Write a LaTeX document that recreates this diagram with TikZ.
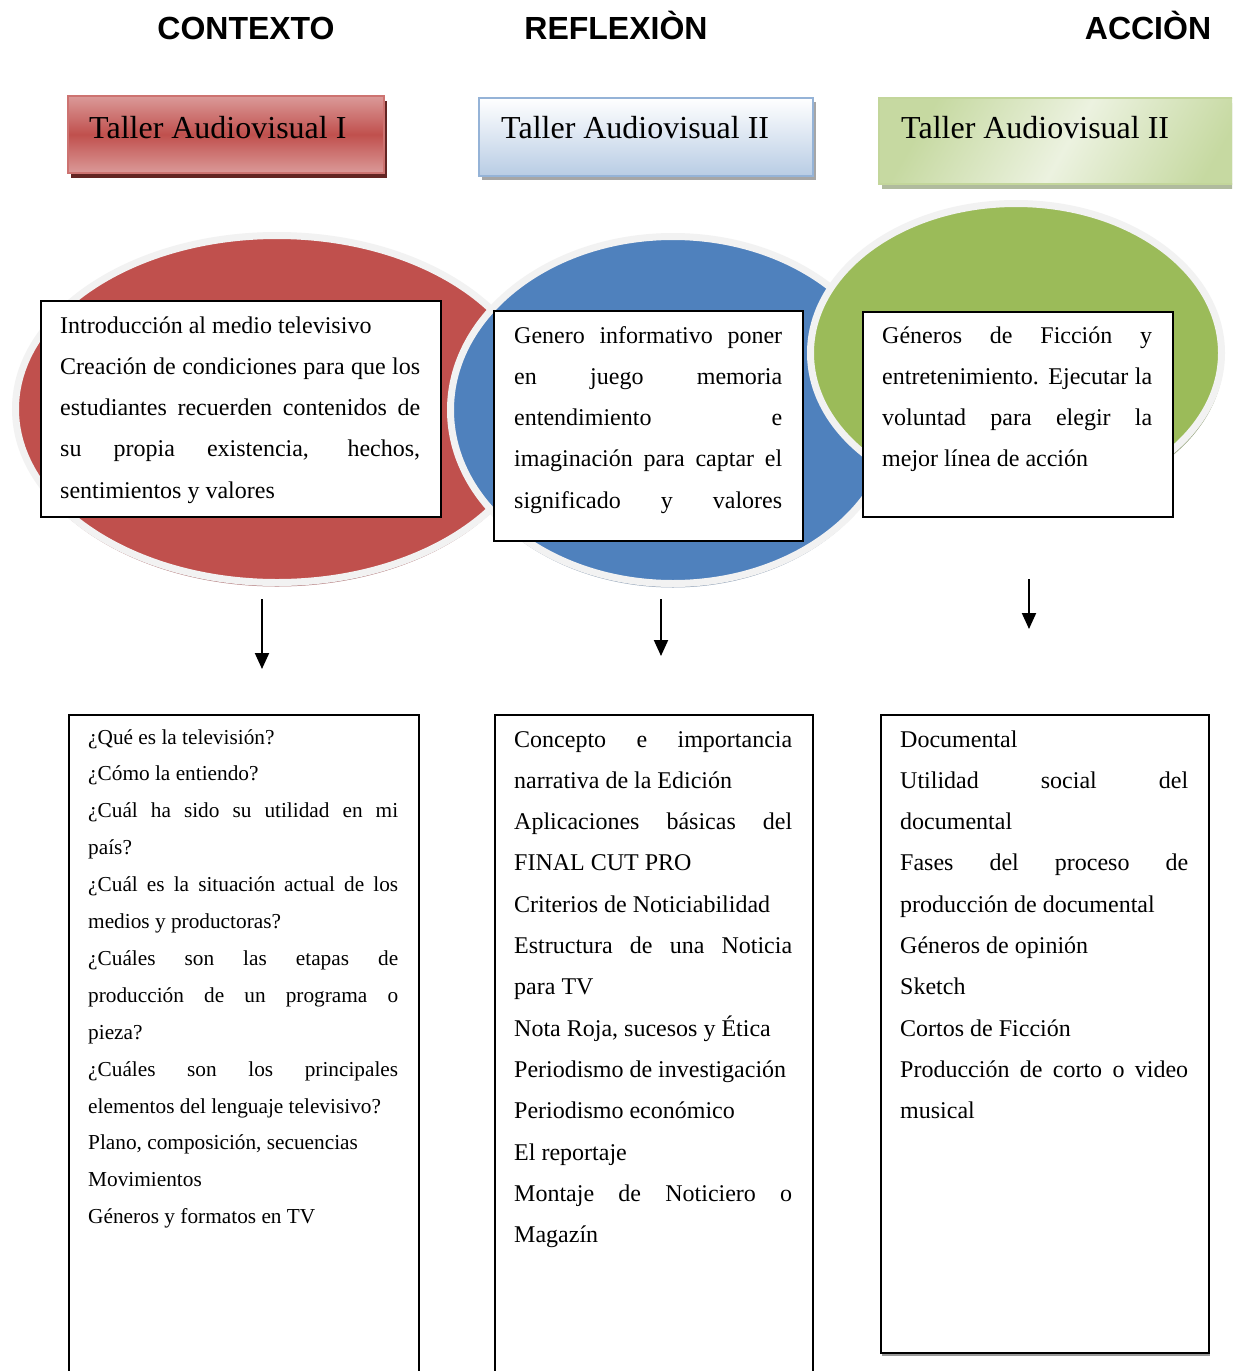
\documentclass[tikz,border=0pt]{standalone}
\usepackage{fontspec}
\setmainfont{Liberation Serif}
\newfontfamily\hdrfont{Liberation Sans}
\usetikzlibrary{arrows.meta,shapes.geometric,shadows}
\definecolor{rojo}{HTML}{C0504D}
\definecolor{rojoclaro}{HTML}{DB9A99}
\definecolor{rojosh}{HTML}{A8696A}
\definecolor{rojoosc}{HTML}{632523}
\definecolor{azul}{HTML}{4F81BD}
\definecolor{azulsh}{HTML}{8396AE}
\definecolor{azulborde}{HTML}{95B3D7}
\definecolor{azulclaro}{HTML}{B8CCE4}
\definecolor{verde}{HTML}{9BBB59}
\definecolor{verdesh}{HTML}{8E9E74}
\definecolor{verdeborde}{HTML}{C3D69B}
\definecolor{verdeosc}{HTML}{C6D9A1}
\definecolor{verdeclaro}{HTML}{ECF2E0}
\definecolor{rim}{HTML}{F2F2F2}
\newcommand\J[1]{\makebox[\linewidth][s]{#1}\par}
\newcommand\Ln[1]{#1\par}
\tikzset{
  hdr/.style={font=\hdrfont\bfseries\fontsize{32}{38}\selectfont, inner sep=0pt, anchor=base},
  ttl/.style={font=\fontsize{32}{38}\selectfont, anchor=base west, inner sep=0pt},
  ovalo/.style={ellipse, draw=rim, line width=7pt, inner sep=0pt},
  txtbox/.style={draw=black, line width=2pt, fill=white, anchor=north west, inner sep=0pt},
  txt/.style={anchor=base west, inner sep=0pt},
  arr/.style={line width=2pt, -{Triangle[width=14pt,length=16pt]}},
  tbox/.style={anchor=north west, inner sep=0pt, line width=2pt}
}
\begin{document}
\begin{tikzpicture}[x=1pt,y=-1pt]
\useasboundingbox (0,0) rectangle (1232,1371);
\clip (0,0) rectangle (1232,1371);
\fill[white] (0,0) rectangle (1232,1371);

% headers
\node[hdr] (h1) at (246,39.5) {CONTEXTO};
\node[hdr] (h2) at (616,39.5) {REFLEXIÒN};
\node[hdr] (h3) at (1148,39.5) {ACCIÒN};

% title boxes
\node[tbox, draw=rojo!80!white, top color=rojoclaro, bottom color=rojoclaro, middle color=rojo,
  minimum width=316pt, minimum height=77pt,
  drop shadow={shadow xshift=3pt, shadow yshift=-5pt, fill=rojoosc, opacity=1}] (r1) at (67,95) {};
\node[ttl] (r1t) at (89,138) {Taller Audiovisual I};

\node[tbox, draw=azulborde, top color=white, bottom color=azulclaro,
  minimum width=334pt, minimum height=78pt,
  drop shadow={shadow xshift=3pt, shadow yshift=-4pt, fill=black!35, opacity=1}] (r2) at (478,97) {};
\node[ttl] (r2t) at (501,138) {Taller Audiovisual II};

\node[tbox, draw=verdeborde, left color=verdeosc, right color=verdeosc, middle color=verdeclaro,
  shading angle=60, minimum width=380pt, minimum height=86pt,
  drop shadow={shadow xshift=3pt, shadow yshift=-5pt, fill=verdesh!70, opacity=1}] (r3) at (878,97) {};
\node[ttl] (r3t) at (901,138) {Taller Audiovisual II};

% ovals
\node[ovalo, fill=rojo, minimum width=523pt, minimum height=347pt,
  drop shadow={shadow xshift=0pt, shadow yshift=-4pt, fill=rojosh, opacity=.9}] (e1) at (277,409) {};
\node[ovalo, fill=azul, minimum width=445pt, minimum height=347pt,
  drop shadow={shadow xshift=0pt, shadow yshift=-4pt, fill=azulsh, opacity=.9}] (e2) at (673,410) {};
\node[ovalo, fill=verde, minimum width=411pt, minimum height=299pt,
  drop shadow={shadow xshift=2pt, shadow yshift=-4pt, fill=verdesh, opacity=.9}] (e3) at (1016,353) {};

% text boxes in ovals
\node[txtbox, minimum width=400pt, minimum height=216pt] (b1) at (40,300) {};
\node[txt] (t1) at (60,333) {\parbox[t]{360pt}{\fontsize{24}{41.3}\selectfont
\Ln{Introducción al medio televisivo}
\J{Creación de condiciones para que los}
\J{estudiantes recuerden contenidos de}
\J{su propia existencia, hechos,}
\Ln{sentimientos y valores}}};

\node[txtbox, minimum width=309pt, minimum height=230pt] (b2) at (493,310) {};
\node[txt] (t2) at (514,343) {\parbox[t]{268pt}{\fontsize{24}{41.3}\selectfont
\J{Genero informativo poner}
\J{en juego memoria}
\J{entendimiento e}
\J{imaginación para captar el}
\J{significado y valores}}};

\node[txtbox, minimum width=310pt, minimum height=205pt] (b3) at (862,311) {};
\node[txt] (t3) at (882,343) {\parbox[t]{270pt}{\fontsize{24}{41.3}\selectfont
\J{Géneros de Ficción y}
\J{entretenimiento. Ejecutar la}
\J{voluntad para elegir la}
\Ln{mejor línea de acción}}};

% arrows
\coordinate (a1s) at (262,599); \coordinate (a1e) at (262,669);
\coordinate (a2s) at (661,599); \coordinate (a2e) at (661,656);
\coordinate (a3s) at (1029,579); \coordinate (a3e) at (1029,629);
\draw[arr] (a1s) -- (a1e);
\draw[arr] (a2s) -- (a2e);
\draw[arr] (a3s) -- (a3e);

% bottom boxes
\node[txtbox, minimum width=350pt, minimum height=720pt] (bA) at (68,714) {};
\node[txt] (tA) at (88,744) {\parbox[t]{310pt}{\fontsize{21.3}{36.9}\selectfont
\Ln{¿Qué es la televisión?}
\Ln{¿Cómo la entiendo?}
\J{¿Cuál ha sido su utilidad en mi}
\Ln{país?}
\J{¿Cuál es la situación actual de los}
\Ln{medios y productoras?}
\J{¿Cuáles son las etapas de}
\J{producción de un programa o}
\Ln{pieza?}
\J{¿Cuáles son los principales}
\Ln{elementos del lenguaje televisivo?}
\Ln{Plano, composición, secuencias}
\Ln{Movimientos}
\Ln{Géneros y formatos en TV}}};

\node[txtbox, minimum width=318pt, minimum height=720pt] (bB) at (494,714) {};
\node[txt] (tB) at (514,747) {\parbox[t]{278pt}{\fontsize{24}{41.3}\selectfont
\J{Concepto e importancia}
\Ln{narrativa de la Edición}
\J{Aplicaciones básicas del}
\Ln{FINAL CUT PRO}
\Ln{Criterios de Noticiabilidad}
\J{Estructura de una Noticia}
\Ln{para TV}
\Ln{Nota Roja, sucesos y Ética}
\Ln{Periodismo de investigación}
\Ln{Periodismo económico}
\Ln{El reportaje}
\J{Montaje de Noticiero o}
\Ln{Magazín}}};

\node[txtbox, minimum width=328pt, minimum height=638pt,
  drop shadow={shadow xshift=1pt, shadow yshift=-3pt, fill=black!40, opacity=1}] (bC) at (880,714) {};
\node[txt] (tC) at (900,747) {\parbox[t]{288pt}{\fontsize{24}{41.3}\selectfont
\Ln{Documental}
\J{Utilidad social del}
\Ln{documental}
\J{Fases del proceso de}
\Ln{producción de documental}
\Ln{Géneros de opinión}
\Ln{Sketch}
\Ln{Cortos de Ficción}
\J{Producción de corto o video}
\Ln{musical}}};
\end{tikzpicture}
\end{document}
